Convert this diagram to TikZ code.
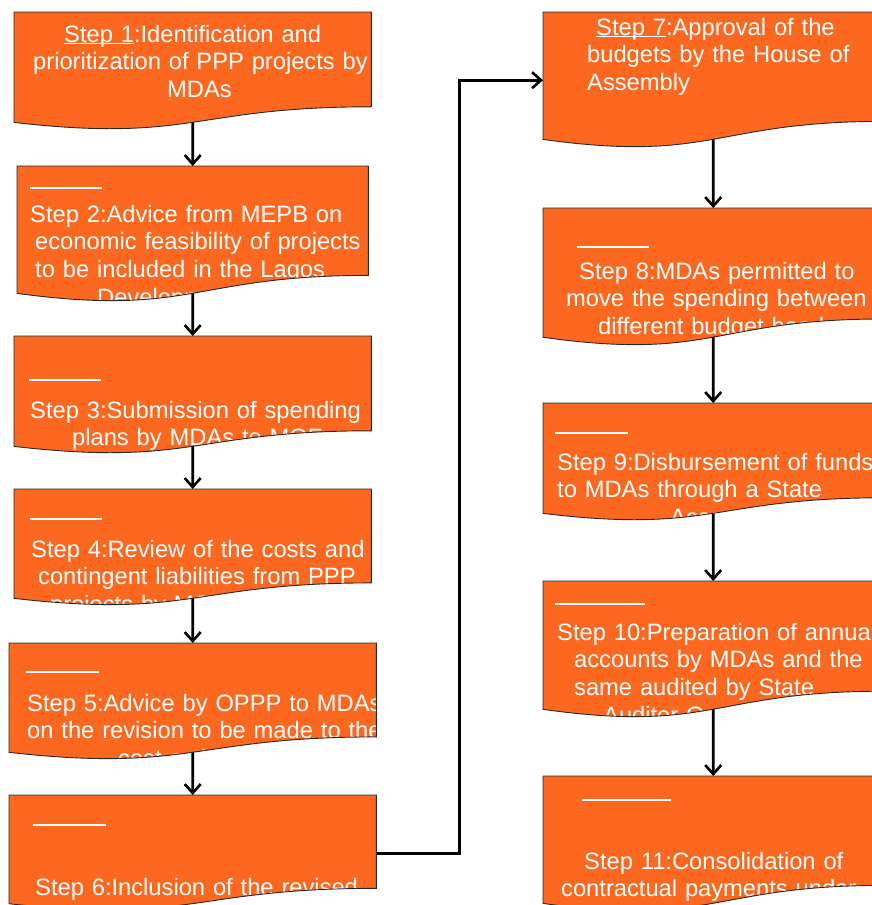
\documentclass[tikz,border=0pt]{standalone}
\usepackage{fontspec}
\setmainfont{Liberation Sans}
\usetikzlibrary{calc,arrows.meta}

\definecolor{steporange}{RGB}{253,104,33}
\definecolor{stepedge}{RGB}{40,40,40}

\tikzset{
  stepbox/.style={anchor=north west, inner sep=0pt, draw=none},
  steptext/.style={anchor=base west, inner sep=0pt, text=white, text width=420pt,
    align=left, font=\fontsize{23.7pt}{27.7pt}\selectfont},
  flow/.style={line width=2.6pt, -{Straight Barb[length=9pt,width=16pt]}},
  blankline/.style={white, line width=1.3pt}
}

\newlength{\ulwd}
\newcommand{\stepul}[1]{\settowidth{\ulwd}{#1}\rlap{\rule[-2pt]{\ulwd}{1.2pt}}#1}

% flowchart "document" outline of a step box
\newcommand{\docpath}[1]{(#1.north west) -- (#1.north east)
  -- ($(#1.north east)!0.802!(#1.south east)$)
  .. controls ($(#1.north)!0.802!(#1.south)$) and ($(#1.north)!1.1075!(#1.south)$)
  .. ($(#1.north west)!0.934!(#1.south west)$) -- cycle}

\newcommand{\fillstep}[4]{%
  \fill[steporange] \docpath{#1};
  \begin{scope}
    \clip \docpath{#1};
    \node[steptext] (#1t) at (#2,#3) {#4};
  \end{scope}
  \draw[stepedge, line width=0.9pt] \docpath{#1};
}

\begin{document}
\begin{tikzpicture}[x=1pt,y=-1pt]
  \useasboundingbox (0,0) rectangle (872,905);
  \fill[white] (0,0) rectangle (872,905);
  \clip (0,0) rectangle (872,905);

  % Left column
  \node[stepbox, minimum width=357pt, minimum height=117.8pt] (s1) at (14,12) {};
  \node[stepbox, minimum width=351pt, minimum height=136pt] (s2) at (17,166) {};
  \node[stepbox, minimum width=357pt, minimum height=117.8pt] (s3) at (14,336) {};
  \node[stepbox, minimum width=357pt, minimum height=116.7pt] (s4) at (14,489) {};
  \node[stepbox, minimum width=367pt, minimum height=116.7pt] (s5) at (9,643) {};
  \node[stepbox, minimum width=367pt, minimum height=116pt] (s6) at (9,795) {};

  % Right column
  \node[stepbox, minimum width=340pt, minimum height=136pt] (s7) at (543,12) {};
  \node[stepbox, minimum width=340pt, minimum height=138pt] (s8) at (543,208) {};
  \node[stepbox, minimum width=340pt, minimum height=117.8pt] (s9) at (543,403) {};
  \node[stepbox, minimum width=340pt, minimum height=137pt] (s10) at (543,581) {};
  \node[stepbox, minimum width=340pt, minimum height=136pt] (s11) at (543,776) {};

  % Step texts
  \fillstep{s1}{33}{42}{\hspace*{31pt}\stepul{Step 1}:Identification and\\
    prioritization of PPP projects by\\ \hspace*{134pt}MDAs}
  \fillstep{s2}{30}{222}{Step 2:Advice from MEPB on\\ \hspace*{5pt}economic feasibility of projects\\
    \hspace*{5pt}to be included in the Lagos\\ \hspace*{67pt}Development}
  \fillstep{s3}{30}{418}{Step 3:Submission of spending\\ \hspace*{42pt}plans by MDAs to MOF}
  \fillstep{s4}{31}{557}{Step 4:Review of the costs and\\ \hspace*{7pt}contingent liabilities from PPP\\
    \hspace*{19pt}projects by MOF}
  \fillstep{s5}{27}{711}{Step 5:Advice by OPPP to MDAs\\ on the revision to be made to the\\
    \hspace*{91pt}cost estimates}
  \fillstep{s6}{35}{895}{Step 6:Inclusion of the revised}
  \fillstep{s7}{587}{35}{\hspace*{9pt}\stepul{Step 7}:Approval of the\\ budgets by the House of\\ Assembly}
  \fillstep{s8}{566}{279}{\hspace*{13pt}Step 8:MDAs permitted to\\ move the spending between\\
    \hspace*{32pt}different budget heads}
  \fillstep{s9}{557}{470}{Step 9:Disbursement of funds\\ to MDAs through a State\\ \hspace*{113pt}Account}
  \fillstep{s10}{557}{640}{Step 10:Preparation of annual\\ \hspace*{17pt}accounts by MDAs and the\\
    \hspace*{17pt}same audited by State\\ \hspace*{46pt}Auditor General}
  \fillstep{s11}{561}{869}{\hspace*{23pt}Step 11:Consolidation of\\ contractual payments under}

  % Blank underlined lines
  \draw[blankline] (30,188) -- (102,188);
  \draw[blankline] (29,380) -- (101,380);
  \draw[blankline] (30,519) -- (102,519);
  \draw[blankline] (26,672) -- (99,672);
  \draw[blankline] (33,825) -- (106,825);
  \draw[blankline] (577,247) -- (649,247);
  \draw[blankline] (555,433) -- (628,433);
  \draw[blankline] (555,604) -- (645,604);
  \draw[blankline] (582,800) -- (671,800);

  % Arrows
  \foreach \n in {1,...,11}
    \coordinate (b\n) at ($(s\n.north)!0.933!(s\n.south)$);
  \foreach \a/\b in {1/2,2/3,3/4,4/5,5/6,7/8,8/9,9/10,10/11}
    \draw[flow] (b\a) -- (s\b.north);
  \draw[flow] (s6.east) -- ++(83,0) |- (s7.west);
\end{tikzpicture}
\end{document}
